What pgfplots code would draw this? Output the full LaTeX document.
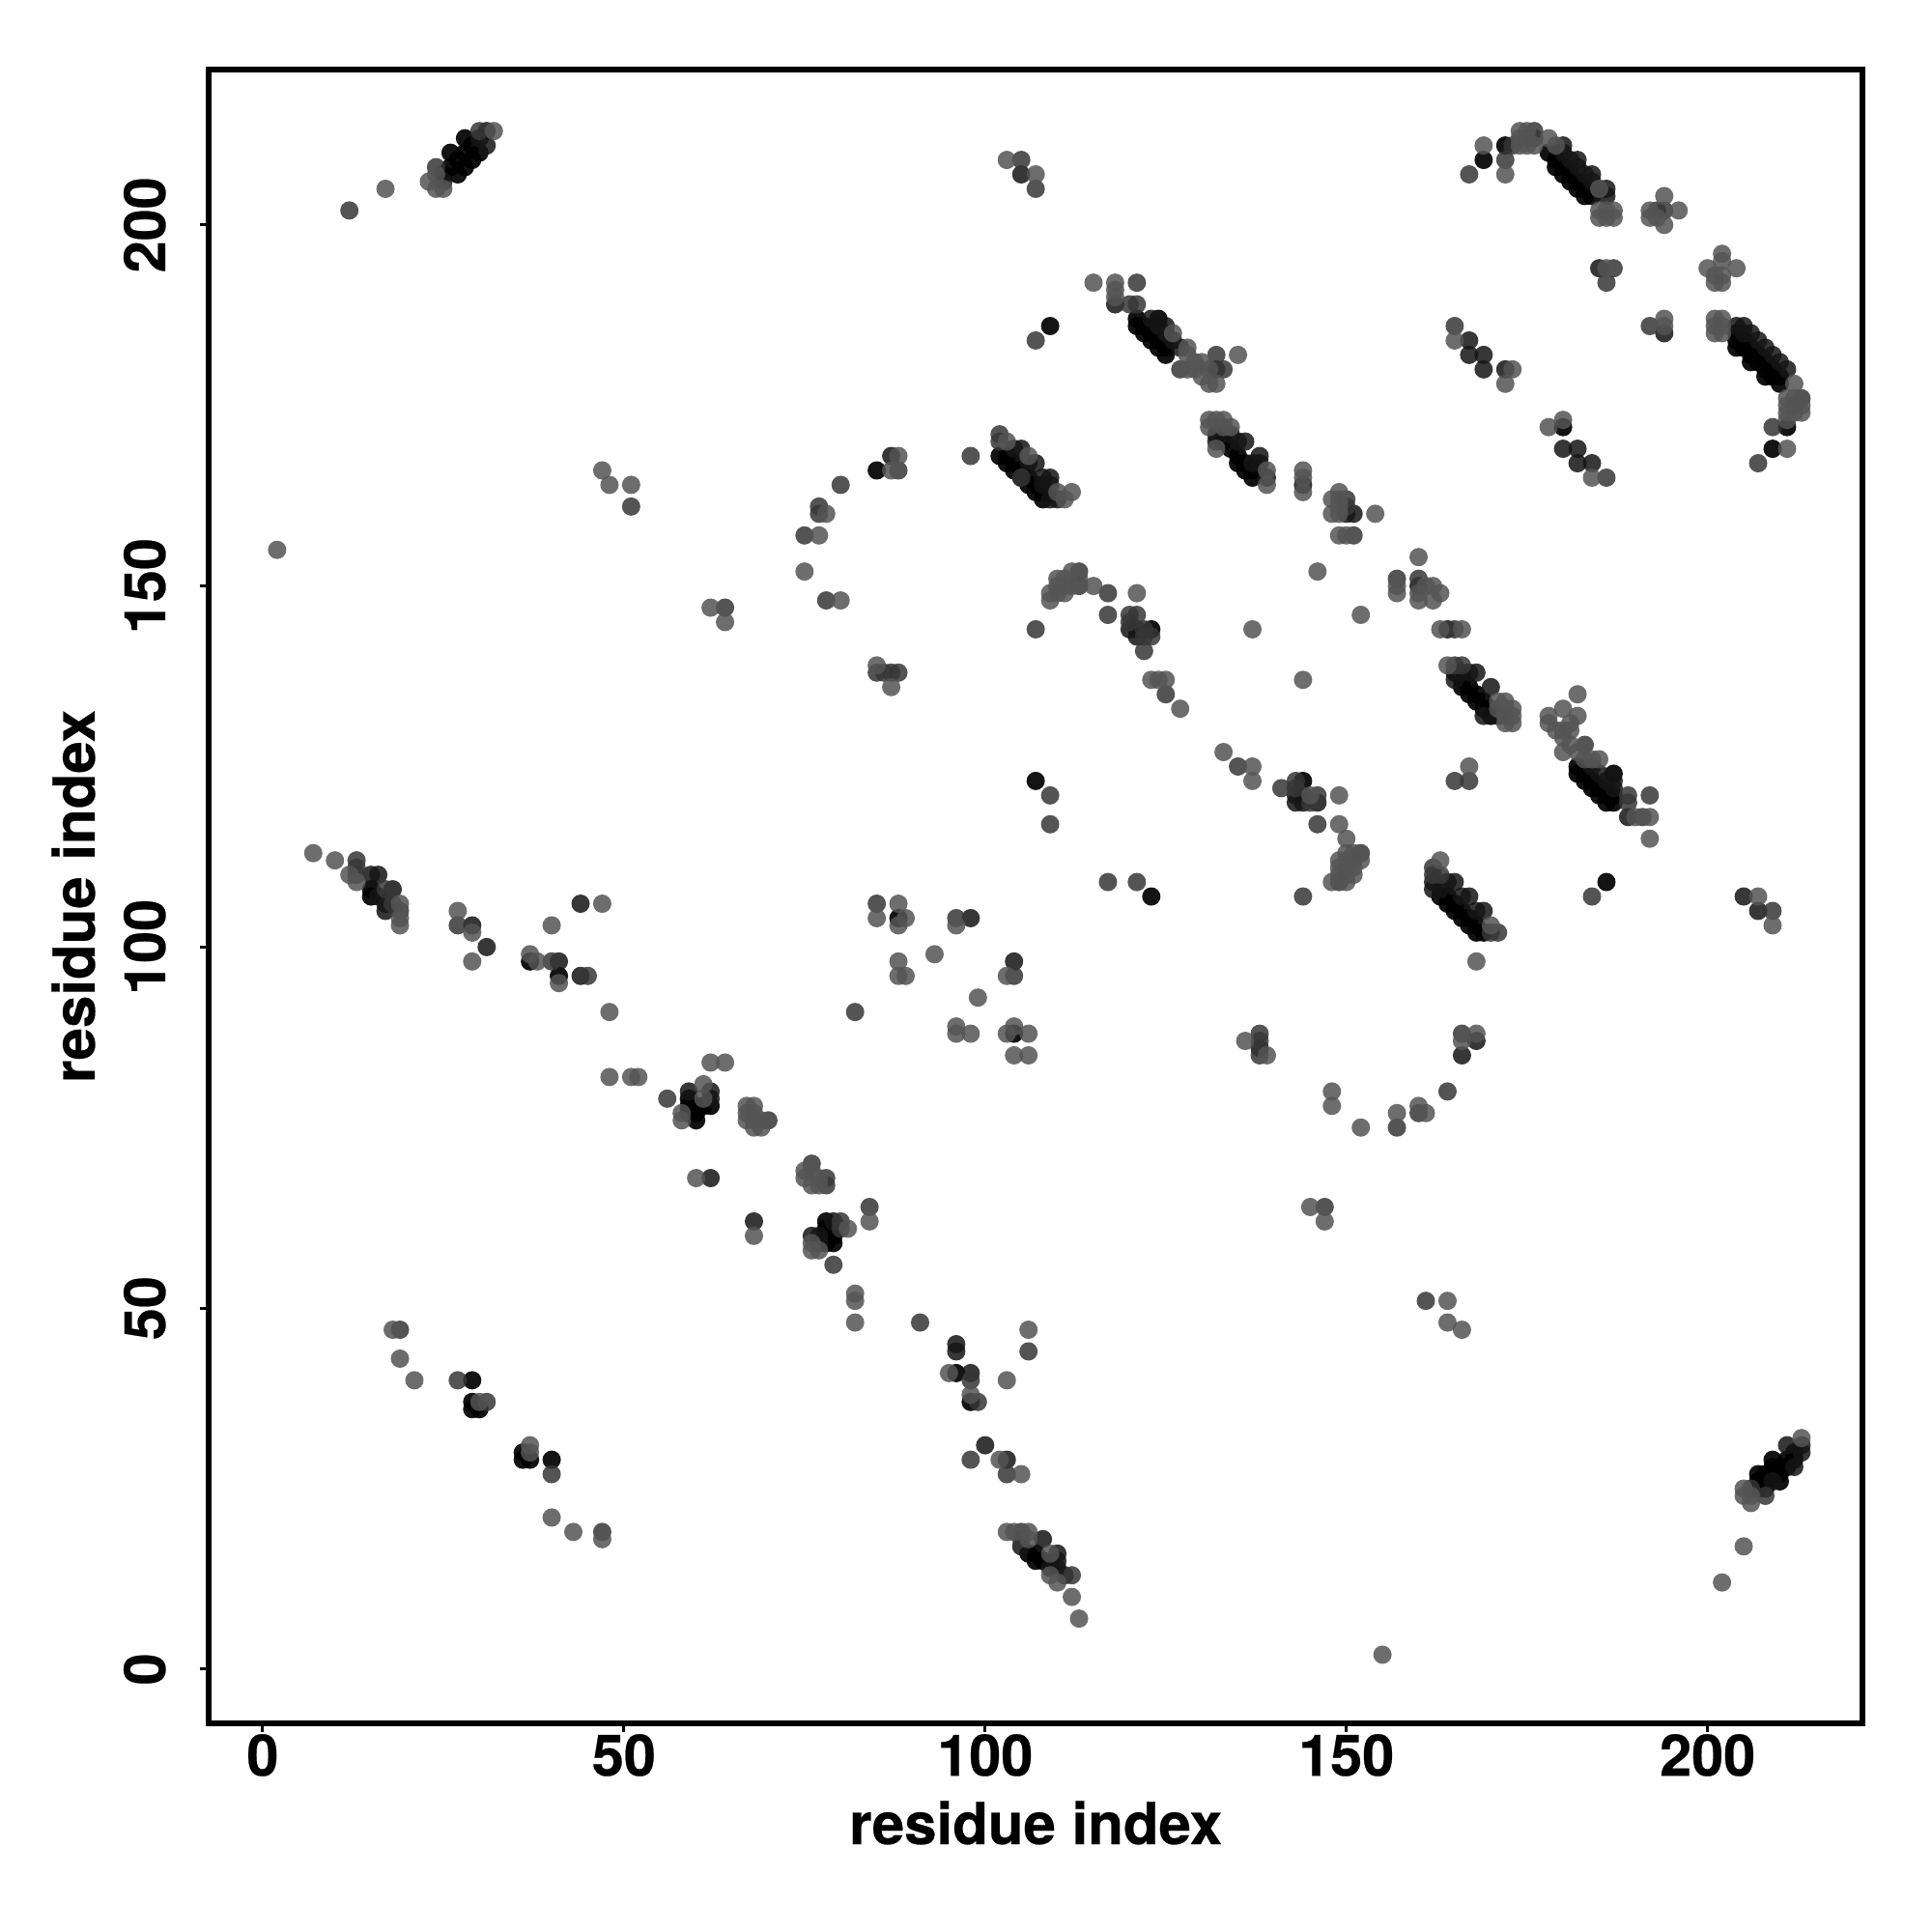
\documentclass[border=0pt]{standalone}
\usepackage{fontspec}
\setmainfont{TeX Gyre Heros}[BoldFeatures={FakeBold=0.4}]
\usepackage{pgfplots}
\pgfplotsset{compat=1.18}
\newcommand\lab{\fontsize{29.7}{35}\bfseries\selectfont}
\newcommand\axlab{\fontsize{30}{36}\bfseries\selectfont}
\definecolor{gL}{gray}{0.33}
\definecolor{gM}{gray}{0.21}
\definecolor{gD}{gray}{0.08}
\definecolor{gV}{gray}{0.0}
\pgfplotsset{
  dots/.style 2 args={only marks, mark=*, mark size=4.75pt,
    mark options={line width=0pt, draw opacity=0, fill=#1, fill opacity=#2}},
}
\begin{document}
\begin{tikzpicture}
  \path[use as bounding box] (-108pt,-108.1pt) rectangle (892pt,891.9pt);
  \begin{axis}[
      scale only axis,
      width=856.15pt, height=855.75pt,
      xmin=-7.48, xmax=221.48, ymin=-7.48, ymax=221.48,
      xtick={0,50,100,150,200}, ytick={0,50,100,150,200},
      tick align=outside, major tick length=4.5pt,
      xtick pos=bottom, ytick pos=left,
      axis line style={line width=2.85pt},
      tick style={line width=1.5pt, black},
      /pgf/number format/assume math mode=true,
      tick label style={font=\lab},
      xticklabel style={anchor=base, yshift=-22.7pt},
      yticklabel style={rotate=90, anchor=base, yshift=18pt},
      xlabel={residue index}, ylabel={residue index},
      label style={font=\axlab},
      xlabel style={at={(axis description cs:0.5,0)}, anchor=base, yshift=-62.6pt},
      ylabel style={at={(axis description cs:0,0.5)}, anchor=base, yshift=59pt},
    ]
    % darkest contacts first, lighter ones end up on top
    \addplot[dots={gV}{0.92}] coordinates {
      (25,207)(26,208)(26,210)(27,207)(27,209)(28,208)(28,210)(28,212)(29,209)(29,211)(30,210)
      (109,186)(121,187)(121,186)(122,186)(122,185)(123,185)(123,184)(124,184)(124,183)(125,183)(125,182)(124,187)
      (102,168)(103,168)(103,167)(104,167)(104,166)(105,166)(105,165)(106,165)(106,164)(107,164)(107,163)(108,163)(108,162)
      (133,170)(134,169)(135,168)(135,167)(136,167)(136,166)(137,166)(137,165)
      (85,166)(123,144)(144,123)(107,123)(123,107)(88,104)(104,88)
      (169,209)(172,211)(178,210)(179,209)(179,208)(180,208)(180,207)(181,207)(181,206)(182,206)(182,205)(183,205)(183,204)(184,204)
      (204,185)(204,184)(204,183)(205,184)(205,183)(206,183)(206,182)(206,181)(207,182)(207,181)(208,181)(208,180)(208,179)(209,180)(209,179)(210,179)(210,178)
      (211,172)(209,169)(180,172)
      (165,138)(166,137)(166,136)(167,136)(167,135)(168,135)(168,134)(169,134)(169,133)(170,133)(170,132)
      (163,107)(164,107)(164,106)(165,106)(165,105)(166,105)(166,104)(167,104)(167,103)(168,103)(168,102)(169,102)
      (182,125)(182,124)(183,124)(183,123)(184,123)(184,122)(185,122)(185,121)(186,121)(186,120)(187,120)(187,121)
      (187,124)(184,123)(186,109)
      (15,108)(15,107)(37,98)(41,96)(59,79)(59,78)(60,78)(60,77)(60,76)(61,78)(62,78)(59,77)
      (29,40)(29,37)(29,36)(30,36)(36,30)(36,29)(37,29)(40,29)
      (78,62)(78,60)(78,59)(79,59)(79,60)(78,61)(79,61)(96,41)(98,37)
      (106,16)(107,15)(108,15)(107,16)
      (207,26)(207,25)(208,27)(208,26)(208,25)(209,28)(209,27)(210,28)(210,27)(211,29)(211,28)(212,30)(212,29)
      (207,27)(209,29)(210,26)
    };
    \addplot[dots={gD}{0.85}] coordinates {
      (25,206)(30,212)(31,211)(31,213)
      (105,207)(118,189)(123,187)(124,186)(125,185)(125,186)(126,184)(127,183)
      (132,171)(132,170)(136,170)(138,168)(137,167)(138,167)(139,165)(134,171)(135,170)
      (104,169)(105,169)(106,167)(107,167)(108,165)(109,165)(109,164)(109,162)(110,162)(108,164)
      (144,164)(143,120)(144,120)(144,121)(146,120)(143,121)(121,144)(121,143)(120,144)
      (132,180)(138,86)
      (180,210)(181,209)(182,209)(182,208)(183,207)(184,207)(184,206)(185,205)(186,205)(186,204)(180,211)
      (204,186)(205,186)(206,185)(207,184)(208,183)(209,182)(210,181)(211,180)(205,185)
      (167,182)(169,182)(169,180)(172,180)(180,169)(182,169)(182,167)(184,167)(167,184)
      (185,194)(194,185)
      (160,150)(150,160)(151,160)(164,144)
      (167,138)(168,138)(170,136)(165,137)(169,132)(171,132)(166,138)
      (162,109)(162,108)(164,109)(165,109)(167,107)(169,105)(163,108)(166,107)(168,105)
      (184,125)(185,124)(186,123)(187,123)(187,122)(189,118)
      (205,107)(207,105)(168,87)(166,85)
      (15,110)(16,110)(17,106)(17,105)(18,108)(16,107)(29,103)(31,100)(41,98)(44,96)(44,106)
      (62,80)(62,79)(59,80)(62,68)
      (68,62)(76,60)(77,60)(79,62)(96,45)(96,44)(98,41)(100,31)(103,29)(77,59)
      (108,18)(105,17)(110,16)(110,15)(109,14)(110,14)(111,13)
      (211,31)(212,28)(213,30)(213,31)(209,26)
      (104,98)(98,104)(87,168)
    };
    \addplot[dots={gM}{0.85}] coordinates {
      (12,202)(64,147)(51,161)(24,208)(30,213)
      (105,209)(107,205)(121,192)(120,189)(121,189)(107,184)(132,182)(133,180)(127,180)
      (98,168)(102,171)(102,170)(88,166)(80,164)(77,161)(77,160)(75,157)(78,148)(113,152)(117,149)(117,146)
      (120,146)(121,146)(120,145)(107,144)(122,144)(122,143)(123,143)(122,141)
      (85,138)(86,138)(87,138)(88,138)(125,135)(135,125)(141,122)(143,123)(143,122)(145,120)(146,121)(146,117)
      (109,121)(109,117)(117,109)(121,109)(144,107)(85,106)(96,104)(104,96)(82,91)(138,88)(138,85)(138,87)
      (76,70)(78,68)(78,67)(84,64)
      (105,165)(167,207)(172,209)(173,211)(176,212)(176,213)(194,202)(193,202)(186,192)(187,194)(192,186)(165,186)(186,165)
      (213,176)(209,172)(207,167)(157,151)(160,151)(151,157)(113,150)(165,144)(150,162)(150,161)
      (152,113)(149,109)(165,139)(166,139)(165,123)(167,123)
      (162,111)(162,110)(163,110)(171,102)(170,102)
      (183,128)(189,121)(189,120)(192,121)(191,118)(184,107)(209,105)(166,88)(164,80)(157,75)(160,77)
      (13,112)(13,111)(13,110)(17,108)(18,106)(19,105)(27,103)(40,98)(45,96)(56,79)(70,76)
      (27,40)(31,37)(40,27)(47,19)
      (80,62)(80,61)(79,56)(91,48)(106,44)(99,37)(98,40)(98,29)(103,27)
      (105,19)(105,18)(112,13)
      (147,64)(161,51)(208,24)(206,25)(19,47)
    };
    \addplot[dots={gL}{0.85}] coordinates {
      (17,205)(23,206)(24,205)(25,205)(24,207)(32,213)
      (47,166)(48,164)(51,164)(2,155)(62,147)(64,145)
      (103,209)(107,207)(115,192)(118,192)(118,191)(118,190)
      (126,185)(128,183)(128,182)(129,181)(129,180)(128,180)(130,181)(130,179)(131,180)(131,178)(132,178)(135,182)
      (131,173)(131,172)(132,173)(133,173)(133,172)(134,172)(132,169)(139,166)(139,164)
      (103,170)(110,163)(111,162)(112,163)(106,168)
      (88,168)(87,166)(77,157)(75,152)(80,148)(78,160)(112,152)(110,151)(111,151)(113,151)(115,150)(121,149)
      (109,149)(109,148)(110,149)(110,150)(111,149)(111,150)(112,150)
      (137,144)(85,139)(87,136)(123,137)(124,137)(125,137)(127,133)(144,137)(133,127)(137,125)(137,123)(145,121)(149,121)(149,117)(150,115)
      (88,106)(85,104)(89,104)(88,103)(96,103)(93,99)(88,98)(88,96)(89,96)(103,96)(99,93)(96,89)(96,88)(98,88)(104,89)(103,88)(106,88)(104,85)(106,85)(136,87)(139,85)(148,80)(148,78)
      (75,69)(75,68)(76,67)(77,68)(76,69)(77,67)
      (169,211)(172,207)(174,213)(175,213)(174,211)(175,211)(176,211)(175,212)(174,212)(178,212)(179,211)(185,205)(185,202)(187,202)(186,202)(185,201)(186,201)(187,201)
      (194,204)(192,202)(192,201)(193,201)(194,200)(196,202)(186,194)
      (202,196)(200,194)(202,195)(204,194)(201,193)(202,193)(201,192)(202,192)
      (194,187)(194,186)(201,187)(202,187)(201,186)(202,186)(201,185)(202,185)
      (212,178)(211,176)(211,175)(211,174)(211,173)(212,175)(213,175)(213,174)(212,174)(212,176)(211,169)
      (165,184)(173,180)(172,178)(178,172)(180,173)(184,165)
      (146,152)(160,154)(157,150)(157,149)(160,149)(160,148)(161,150)(162,150)(162,148)(163,149)(152,146)(163,144)(166,144)
      (144,166)(144,165)(144,163)(149,163)(148,162)(148,160)(149,162)(149,161)(149,160)(154,160)(149,157)(150,157)
      (164,139)(172,134)(173,133)(171,134)(172,131)(173,131)(172,133)(171,133)(172,132)(173,132)
      (167,125)(150,113)(151,113)(152,112)(151,112)(150,112)(151,110)(149,111)(148,109)(150,111)(149,110)(150,110)(151,111)(150,109)(149,112)
      (163,112)(170,103)(168,98)
      (182,135)(180,133)(182,132)(178,132)(178,131)(179,130)(181,130)(180,127)(180,129)(181,128)(180,130)(181,131)(182,127)(185,126)(184,126)(183,126)
      (190,118)(192,118)(192,115)
      (207,107)(209,103)(168,88)(166,87)(152,75)(157,77)(160,78)(161,77)
      (7,113)(10,112)(12,110)(13,109)(19,106)(19,104)(19,103)(27,105)(29,102)(29,98)(37,99)(38,98)(40,103)(41,95)(47,106)(48,91)(48,82)(51,82)(52,82)
      (62,84)(64,84)(61,81)(61,79)(58,77)(58,76)(60,68)(67,78)(68,78)(68,77)(67,77)(67,76)(68,76)(68,75)(69,75)(69,76)
      (68,60)(18,47)(19,43)(21,40)(30,37)(37,31)(37,30)(40,21)(43,19)(47,18)
      (84,62)(76,59)(76,58)(77,58)(81,61)(82,52)(82,51)(82,48)(106,47)(95,41)(103,40)(98,38)(102,29)(105,27)
      (103,19)(104,19)(106,19)(106,18)(109,16)(109,13)(110,12)(112,10)(113,7)
      (145,64)(147,62)(164,51)(164,48)(166,47)(155,2)(202,12)(205,17)
      (205,25)(205,24)(206,23)(206,24)(213,32)
    };
  \end{axis}
\end{tikzpicture}
\end{document}
